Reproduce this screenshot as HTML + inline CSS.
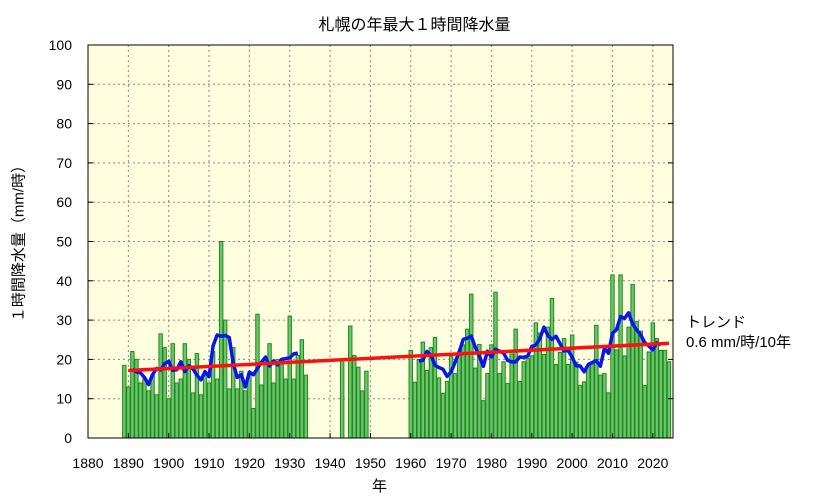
<!DOCTYPE html>
<html><head><meta charset="utf-8">
<style>
body{margin:0;background:#fff;}
svg{display:block;font-family:"Liberation Sans","Noto Sans CJK JP",sans-serif;}
</style></head><body>
<svg id="chart" width="833" height="498"></svg>
<script>
const years = [];
for (let y = 1889; y <= 2024; y++) years.push(y);
const valueMap = {
1889:18.5,1890:13,1891:22,1892:20,1893:14,1894:15,1895:12,1896:16,1897:11,1898:26.5,1899:23,
1900:10,1901:24,1902:14,1903:15,1904:24,1905:20,1906:11.5,1907:21.5,1908:11,1909:16,
1910:14,1911:22,1912:15,1913:50,1914:30,1915:12.5,1916:23,1917:12.5,1918:17,1919:12,
1920:16,1921:7.5,1922:31.5,1923:13.5,1924:20,1925:24,1926:14,1927:20,1928:20,1929:15,
1930:31,1931:15,1932:21,1933:25,1934:16,
1943:20,1945:28.5,1946:21,1947:18,1948:12,1949:17,
1960:22.3,1961:14.2,1962:20,1963:24.4,1964:17.2,1965:23,1966:25.6,1967:15.3,1968:11.4,1969:14.4,
1970:20.8,1971:16.4,1972:21.1,1973:23.7,1974:27.7,1975:36.6,1976:17.8,1977:23.8,1978:9.5,1979:16.4,
1980:23.7,1981:37.1,1982:16.4,1983:19.4,1984:13.9,1985:21.4,1986:27.7,1987:14.4,1988:19.4,1989:20.2,
1990:20.9,1991:29.3,1992:26.7,1993:21.3,1994:28.2,1995:35.5,1996:18.7,1997:21.8,1998:25.3,1999:18.7,
2000:26.2,2001:19.3,2002:13.4,2003:14.3,2004:18.4,2005:18.8,2006:28.7,2007:16,2008:16.4,2009:11.5,
2010:41.5,2011:22.4,2012:41.5,2013:20.9,2014:28.2,2015:39.1,2016:29.6,2017:27.2,2018:13.4,2019:21.9,
2020:29.3,2021:25.3,2022:22.3,2023:22.3,2024:19.4
};
const values = years.map(y => valueMap[y] === undefined ? null : valueMap[y]);
const xTicks = [1880,1890,1900,1910,1920,1930,1940,1950,1960,1970,1980,1990,2000,2010,2020];
const yTicks = [0,10,20,30,40,50,60,70,80,90,100];

const L=88,R=673,T=45,B=438;
const xs = y => L + (y-1880)*(R-L)/145;
const ys = v => B - v*(B-T)/100;
const NS="http://www.w3.org/2000/svg";
const svg=document.getElementById('chart');
function mk(tag, attrs, parent){const e=document.createElementNS(NS,tag);for(const k in attrs)e.setAttribute(k,attrs[k]);(parent||svg).appendChild(e);return e;}

const bg=mk('rect',{x:L,y:T,width:R-L,height:B-T,fill:'#ffffe0'});



const grid=mk('g',{stroke:'#888',"stroke-dasharray":'2,3',"stroke-width":1});


yTicks.forEach(t=>{ if(t>0&&t<100) mk('line',{x1:L,x2:R,y1:ys(t),y2:ys(t)},grid); });
xTicks.forEach(t=>{ if(t>1880) mk('line',{x1:xs(t),x2:xs(t),y1:T,y2:B},grid); });

const bars=mk('g',{});


const bw=(R-L)/145;
years.forEach((y,i)=>{ const v=values[i]; if(v===null) return;
  const r=mk('rect',{x:xs(y)-bw/2+0.3,y:ys(v),width:bw-0.6,height:B-ys(v),fill:'#6cc46c',stroke:'#1f8a1f',"stroke-width":1},bars);
  
  
});

// 5-year moving average
let segs=[],cur=[];
years.forEach((y,i)=>{
  let ok=true,s=0;
  for(let k=-2;k<=2;k++){const v=values[i+k];if(v===null||v===undefined){ok=false;break;}s+=v;}
  if(ok) cur.push([xs(y),ys(s/5)]); else { if(cur.length) segs.push(cur); cur=[]; }
});
if(cur.length) segs.push(cur);
segs.forEach(sg=>{
  const p=mk('polyline',{points:sg.map(p=>p.join(',')).join(' '),fill:'none',stroke:'#0a14f0',"stroke-width":3.5,"stroke-linejoin":'round'});
  
  
});

// trend (least squares)
let n=0,sx=0,sy=0,sxx=0,sxy=0;
years.forEach((y,i)=>{const v=values[i];if(v===null)return;n++;sx+=y;sy+=v;sxx+=y*y;sxy+=y*v;});
const slope=(n*sxy-sx*sy)/(n*sxx-sx*sx), icpt=(sy-slope*sx)/n;
const tl=mk('line',{x1:xs(1890),y1:ys(icpt+slope*1890),x2:xs(2024),y2:ys(icpt+slope*2024),stroke:'#ff1010',"stroke-width":3.5});



const frame=mk('rect',{x:L,y:T,width:R-L,height:B-T,fill:'none',stroke:'#000',"stroke-width":1});



const yl=mk('g',{"font-size":14,"text-anchor":'end',fill:'#000'});


yTicks.forEach(t=>{ mk('line',{x1:L,x2:L+5,y1:ys(t),y2:ys(t),stroke:'#000'},svg); mk('line',{x1:R,x2:R-5,y1:ys(t),y2:ys(t),stroke:'#000'},svg);
  const e=mk('text',{x:L-16,y:ys(t)+5},yl); e.textContent=t; });
const xl=mk('g',{"font-size":14,"text-anchor":'middle',fill:'#000'});


xTicks.forEach(t=>{ mk('line',{x1:xs(t),x2:xs(t),y1:B,y2:B-5,stroke:'#000'},svg);
  const e=mk('text',{x:xs(t),y:468},xl); e.textContent=t; });
</script>
<svg width="0" height="0"></svg>
<div style="position:absolute;left:0;top:0;width:833px;height:498px;pointer-events:none;font-family:'Liberation Sans','Noto Sans CJK JP',sans-serif;">
  <div style="position:absolute;left:0;width:833px;top:11px;text-align:center;font-size:16px;padding-left:0;"><span style="position:relative;left:-2px">札幌の年最大１時間降水量</span></div>
  <div style="position:absolute;left:372px;top:475px;font-size:15px;">年</div>
  <div style="position:absolute;left:18px;top:240px;font-size:15px;transform:translate(-50%,-50%) rotate(-90deg);white-space:nowrap;">１時間降水量（mm/時）</div>
  <div style="position:absolute;left:686px;top:313px;font-size:15px;line-height:20px;white-space:nowrap;">トレンド<br>0.6 mm/時/10年</div>
</div>
</body></html>
